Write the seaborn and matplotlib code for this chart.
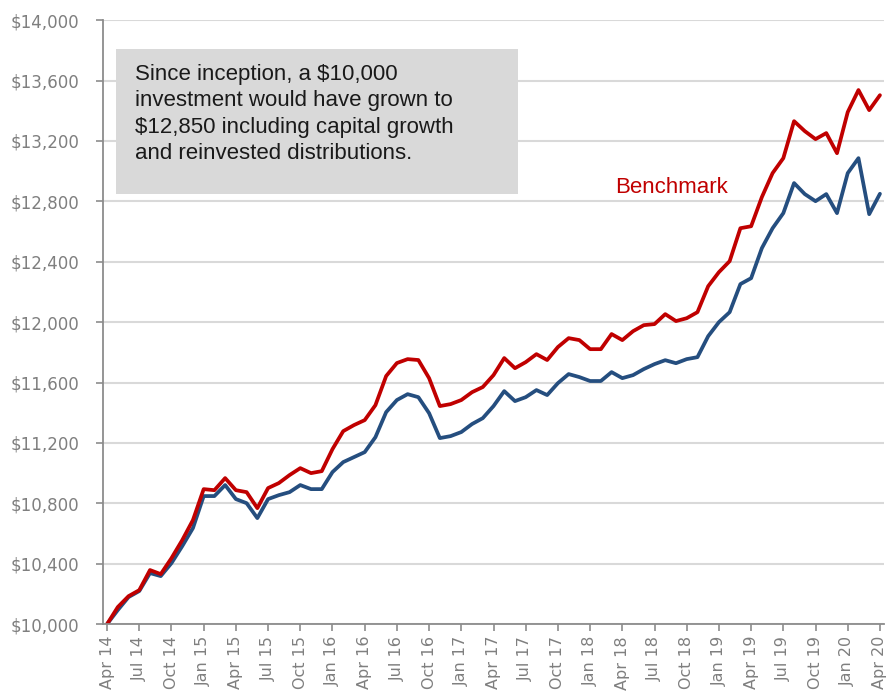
import matplotlib.pyplot as plt
import pandas as pd
import seaborn as sns

# 月度数据：Apr 14 - Apr 20（73 个点）
months = pd.date_range("2014-04-01", "2020-04-01", freq="MS")

fund = [
    10000, 10093, 10179, 10219, 10338, 10318, 10404, 10516, 10636, 10848,
    10848, 10921, 10828, 10801, 10702, 10828, 10854, 10874, 10921, 10894,
    10894, 11007, 11073, 11106, 11139, 11238, 11404, 11484, 11523, 11503,
    11397, 11232, 11245, 11272, 11325, 11364, 11444, 11543, 11477, 11503,
    11550, 11517, 11596, 11656, 11636, 11610, 11610, 11669, 11629, 11649,
    11689, 11722, 11748, 11728, 11755, 11768, 11907, 12000, 12066, 12252,
    12291, 12490, 12622, 12722, 12921, 12848, 12801, 12848, 12722, 12987,
    13086, 12715, 12850,
]
benchmark = [
    10000, 10113, 10185, 10225, 10358, 10331, 10437, 10556, 10689, 10894,
    10887, 10967, 10887, 10874, 10768, 10901, 10934, 10987, 11033, 11000,
    11013, 11159, 11278, 11318, 11351, 11450, 11643, 11729, 11755, 11749,
    11629, 11444, 11457, 11484, 11536, 11570, 11649, 11762, 11695, 11735,
    11788, 11749, 11835, 11894, 11881, 11821, 11821, 11921, 11881, 11940,
    11980, 11987, 12053, 12007, 12026, 12066, 12238, 12331, 12404, 12622,
    12635, 12828, 12987, 13086, 13331, 13265, 13212, 13252, 13119, 13391,
    13537, 13404, 13503,
]

y_ticks = list(range(10000, 14001, 400))
tick_step = 3  # 每季度一个刻度

df = pd.DataFrame({"idx": range(len(months)), "Fund": fund, "Benchmark": benchmark})
long_df = df.melt(id_vars="idx", var_name="series", value_name="value")

sns.set_theme(style="white")
plt.rcParams["font.family"] = ["DejaVu Sans"]

fig = plt.figure(figsize=(8.86, 6.95), dpi=100)
ax = fig.add_axes([0.116, 0.102, 0.882, 0.869])

ax.yaxis.grid(True, color="#d9d9d9", linewidth=1.5)
ax.set_axisbelow(True)

sns.lineplot(
    data=long_df, x="idx", y="value", hue="series",
    hue_order=["Fund", "Benchmark"],
    palette={"Fund": "#254e7f", "Benchmark": "#c00000"},
    linewidth=2.7, legend=False, ax=ax,
)

ax.set_xlim(-0.4, len(months) - 0.6)
ax.set_ylim(10000, 14000)
ax.set_yticks(y_ticks)
ax.set_yticklabels([f"${v:,}" for v in y_ticks])
tick_idx = list(range(0, len(months), tick_step))
ax.set_xticks(tick_idx)
ax.set_xticklabels([months[i].strftime("%b %y") for i in tick_idx], rotation=90)
ax.set_xlabel("")
ax.set_ylabel("")

for side in ["top", "right"]:
    ax.spines[side].set_visible(False)
for side in ["left", "bottom"]:
    ax.spines[side].set_color("#8c8c8c")
    ax.spines[side].set_linewidth(1.3)
ax.tick_params(axis="both", colors="#8c8c8c", labelcolor="#7f7f7f", labelsize=12,
               direction="out", length=5, width=1.2, left=True, bottom=True)
ax.tick_params(axis="y", pad=12)
ax.tick_params(axis="x", labelsize=11.5)

# 说明文本框
fig.patches.append(plt.Rectangle((116 / 886, 1 - 194 / 695), 402 / 886, 145 / 695,
                                 transform=fig.transFigure, facecolor="#d9d9d9",
                                 edgecolor="none", zorder=3))
fig.text(135 / 886, 1 - 64 / 695,
         "Since inception, a $10,000\ninvestment would have grown to\n"
         "$12,850 including capital growth\nand reinvested distributions.",
         fontsize=16, color="#1a1a1a", va="top", ha="left", linespacing=1.33,
         family=["Liberation Sans", "DejaVu Sans"], zorder=4)

ax.text(0.655, 0.7235, "Benchmark", transform=ax.transAxes, color="#c00000",
        fontsize=16, va="center", family=["Liberation Sans", "DejaVu Sans"])

fig.savefig("out.png", dpi=100)
